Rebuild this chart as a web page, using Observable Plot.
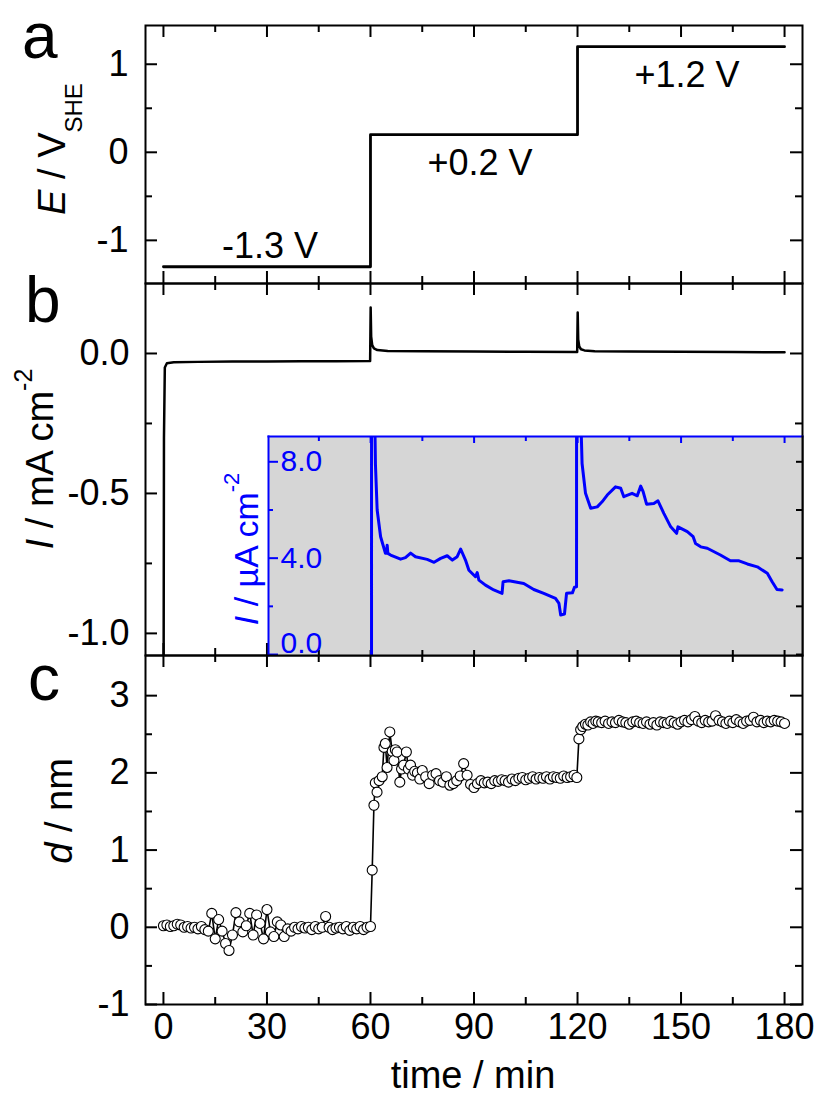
<!DOCTYPE html>
<html><head><meta charset="utf-8">
<script src="https://cdn.jsdelivr.net/npm/d3@7"></script>
<script src="https://cdn.jsdelivr.net/npm/@observablehq/plot@0.6"></script>
<style>
html,body{margin:0;padding:0;background:#fff;}
#fig{position:relative;width:822px;height:1097px;overflow:hidden;}
#fig svg{position:absolute;overflow:visible;}
</style></head><body><div id="fig"></div>
<script>
// ---------- data ----------
// panel a: applied potential steps [time min, E V_SHE]
const potentialSteps = [[0, -1.3], [60, 0.2], [120, 1.2], [180, 1.2]];
const potentialLabels = ["-1.3 V", "+0.2 V", "+1.2 V"];

// panel b: current density [time min, I mA cm^-2]
const currentMain = [
  [0, -1.6], [0.15, -0.3], [0.4, -0.05], [1, -0.035], [3, -0.031], [10, -0.030], [20, -0.029],
  [30, -0.029], [40, -0.028], [50, -0.028], [59.9, -0.027], [60.05, 0.164], [60.2, 0.06],
  [60.5, 0.03], [61, 0.018], [62, 0.012], [65, 0.009], [75, 0.008], [90, 0.007], [105, 0.006],
  [119.9, 0.005], [120.05, 0.146], [120.2, 0.05], [120.5, 0.025], [121, 0.015], [122, 0.011],
  [125, 0.008], [135, 0.007], [150, 0.006], [165, 0.005], [180, 0.004]
];

// inset: current density [time min, I µA cm^-2]
const currentInset = [
  [31, -28], [45, -28], [60.25, -27], [60.35, 160], [60.6, 30], [61.0, 12], [61.4, 7.9],
  [61.9, 6.0], [62.9, 4.89], [64.3, 4.2], [64.6, 4.2], [64.8, 4.54], [65.0, 4.2], [65.8, 4.13],
  [68.7, 3.96], [70.1, 4.02], [71.6, 4.21], [73.0, 4.06], [76.4, 3.95], [78.4, 3.83],
  [80.3, 3.99], [82.2, 4.1], [83.7, 3.92], [85.1, 4.06], [86.1, 4.38], [87.5, 3.92],
  [88.5, 3.5], [90.4, 3.23], [90.9, 3.4], [91.4, 3.09], [93.3, 2.88], [95.7, 2.68],
  [98.1, 2.54], [98.4, 3.02], [100.1, 3.06], [104.4, 2.95], [107.3, 2.7], [110.2, 2.54],
  [113.6, 2.33], [114.6, 2.12], [115.1, 1.64], [116.2, 1.68], [116.8, 2.54], [118.5, 2.56],
  [119.1, 2.79], [119.7, 2.81], [119.8, 146], [120.5, 20], [121.0, 9.5], [121.3, 7.93],
  [122.3, 6.69], [123.8, 6.07], [125.7, 6.13], [127.1, 6.34], [128.6, 6.62], [131.0, 6.96],
  [132.5, 6.9], [133.4, 6.55], [135.8, 6.69], [137.3, 6.59], [138.3, 6.99], [139.0, 6.76],
  [140.0, 6.24], [142.1, 6.27], [143.3, 6.38], [145.0, 5.86], [147.0, 5.3], [148.7, 5.03],
  [149.1, 5.3], [151.8, 5.1], [153.5, 4.89], [154.2, 4.61], [155.7, 4.47], [157.6, 4.41],
  [161.4, 4.13], [164.3, 3.89], [166.8, 3.89], [169.2, 3.76], [172.1, 3.64], [175.0, 3.37],
  [176.4, 3.02], [177.8, 2.7], [179.3, 2.68]
];

// panel c: oxide thickness [time min, d nm]
const thickness = [
  [0,0.02],[1,0.03],[2,0.01],[3,0.02],[4,0.04],[5,0.03],[6,0.00],[7,0.01],[8,-0.01],[9,0.00],
  [10,-0.02],[11,0.01],[12,-0.03],[13,-0.05],[14,0.18],[15,-0.15],[16,0.10],[17,-0.05],[18,-0.21],[19,-0.30],
  [20,-0.10],[21,0.19],[22,0.07],[23,-0.06],[24,0.02],[25,0.18],[26,-0.10],[27,0.16],[28,0.05],[29,-0.15],
  [30,0.23],[31,-0.06],[32,-0.12],[33,0.07],[34,0.03],[35,-0.12],[36,-0.02],[37,-0.05],[38,0.00],[39,-0.02],
  [40,0.01],[41,-0.01],[42,0.00],[43,-0.03],[44,0.01],[45,-0.02],[46,0.00],[47,0.14],[48,0.00],[49,-0.03],
  [50,-0.01],[51,0.00],[52,-0.02],[53,0.01],[54,-0.04],[55,0.00],[56,-0.02],[57,0.01],[58,-0.03],[59,0.00],
  [60,0.01],[60.5,0.74],[61,1.58],[61.4,1.87],[61.9,1.75],[62.5,1.90],[63.4,1.95],[63.9,2.33],[64.3,2.38],[64.8,2.07],
  [65.6,2.53],[66.3,2.28],[66.8,2.16],[67.2,2.30],[67.7,2.27],[68.5,1.88],[69.0,2.05],[69.6,2.10],[70.4,2.27],[71.0,2.05],
  [71.6,2.10],[72.2,1.97],[72.8,2.02],[73.6,2.00],[74.3,1.92],[75,2.03],[76,1.95],[77,1.86],[78,1.97],[79,1.99],
  [80,1.90],[81,1.88],[82,1.95],[83,1.84],[84,1.86],[85,1.90],[86,1.96],[87,2.12],[88,1.97],[89,1.85],
  [90,1.81],[91,1.86],[92,1.90],[93,1.87],[94,1.88],[95,1.86],[96,1.90],[97,1.89],[98,1.91],[99,1.90],
  [100,1.88],[101,1.92],[102,1.90],[103,1.93],[104,1.94],[105,1.91],[106,1.93],[107,1.95],[108,1.92],[109,1.94],
  [110,1.93],[111,1.95],[112,1.92],[113,1.95],[114,1.94],[115,1.93],[116,1.96],[117,1.94],[118,1.95],[119,1.97],
  [119.8,1.94],[120.4,2.44],[120.9,2.56],[121.5,2.60],[122.3,2.63],[123,2.62],[123.8,2.66],[124.5,2.64],[125.3,2.67],[126,2.66],
  [127,2.65],[128,2.67],[129,2.64],[130,2.66],[131,2.65],[132,2.68],[133,2.66],[134,2.65],[135,2.63],[136,2.66],
  [137,2.67],[138,2.65],[139,2.64],[140,2.66],[141,2.63],[142,2.65],[143,2.62],[144,2.66],[145,2.65],[146,2.64],
  [147,2.67],[148,2.65],[149,2.63],[150,2.66],[151,2.68],[152,2.66],[153,2.69],[154,2.73],[155,2.67],[156,2.65],
  [157,2.68],[158,2.66],[159,2.67],[160,2.74],[161,2.68],[162,2.66],[163,2.64],[164,2.67],[165,2.65],[166,2.69],
  [167,2.66],[168,2.64],[169,2.67],[170,2.68],[171,2.72],[172,2.66],[173,2.68],[174,2.65],[175,2.67],[176,2.66],
  [177,2.68],[178,2.67],[179,2.66],[180,2.64]
];

// ticks
const timeMajor = [0, 30, 60, 90, 120, 150, 180];
const timeMinor = [15, 45, 75, 105, 135, 165];
const eMajor = [-1, 0, 1], eMinor = [-0.5, 0.5];
const iMajor = [-1, -0.5, 0], iMinor = [-0.75, -0.25];
const dMajor = [-1, 0, 1, 2, 3], dMinor = [-0.5, 0.5, 1.5, 2.5];
const insetMajor = [0, 4, 8], insetMinor = [2, 6];

// ---------- layout ----------
const FONT = '"Liberation Sans", Arial, Helvetica, sans-serif';
const W = 822, ML = 145, MR = 20, IW = W - ML - MR;
const xDomain = [-5.2, 185.2];
const fig = document.getElementById("fig");
const baseStyle = {fontFamily: FONT, fontSize: "36px", background: "transparent", overflow: "visible", color: "black"};

function sideTicks(side, values, len, w, h, color = "black", sw = 2) {
  const o = {stroke: color, strokeWidth: sw};
  if (side === "top") return Plot.tickX(values, {x: d => d, insetBottom: h - len, ...o});
  if (side === "bottom") return Plot.tickX(values, {x: d => d, insetTop: h - len, ...o});
  if (side === "left") return Plot.tickY(values, {y: d => d, insetRight: w - len, ...o});
  return Plot.tickY(values, {y: d => d, insetLeft: w - len, ...o});
}
function boxTicks(w, h, yMaj, yMin) {
  return [
    sideTicks("top", timeMajor, 12, w, h), sideTicks("top", timeMinor, 7, w, h),
    sideTicks("bottom", timeMajor, 12, w, h), sideTicks("bottom", timeMinor, 7, w, h),
    sideTicks("left", yMaj, 12, w, h), sideTicks("left", yMin, 7, w, h),
    sideTicks("right", yMaj, 12, w, h), sideTicks("right", yMin, 7, w, h)
  ];
}
function place(svg, left, top) {
  svg.style.left = left + "px";
  svg.style.top = top + "px";
  fig.appendChild(svg);
}

// ---------- panel a ----------
const stepData = potentialSteps.map(([t, E]) => ({t, E}));
const labelData = potentialLabels.map((s, i) => ({
  s, t: (potentialSteps[i][0] + potentialSteps[i + 1][0]) / 2, E: potentialSteps[i][1], above: i === 0
}));
const hA = 283, mtA = 25;
const plotA = Plot.plot({
  width: W, height: hA, marginTop: mtA, marginBottom: 0, marginLeft: ML, marginRight: MR,
  x: {domain: xDomain, axis: null},
  y: {domain: [-1.49, 1.44]},
  style: baseStyle,
  marks: [
    ...boxTicks(IW, hA - mtA, eMajor, eMinor),
    Plot.axisY(eMajor, {tickSize: 0, tickPadding: 17, tickFormat: d => String(d), fontSize: 36, label: null}),
    Plot.line(stepData, {x: "t", y: "E", curve: "step-after", stroke: "black", strokeWidth: 2.8}),
    Plot.text(labelData.filter(d => d.above), {x: "t", y: "E", text: "s", dx: 3, dy: -20, fontSize: 36}),
    Plot.text(labelData.filter(d => !d.above), {x: "t", y: "E", text: "s", dx: 6, dy: 29, fontSize: 36}),
    Plot.frame({stroke: "black", strokeWidth: 2})
  ]
});
place(plotA, 0, 0);

// ---------- panel b ----------
const hB = 372;
const plotB = Plot.plot({
  width: W, height: hB, marginTop: 0, marginBottom: 0, marginLeft: ML, marginRight: MR,
  x: {domain: xDomain, axis: null},
  y: {domain: [-1.079, 0.25]},
  style: baseStyle,
  marks: [
    ...boxTicks(IW, hB, iMajor, iMinor),
    Plot.axisY(iMajor, {tickSize: 0, tickPadding: 16, tickFormat: d => d.toFixed(1), fontSize: 36, label: null}),
    Plot.line(currentMain.map(([t, I]) => ({t, I})), {x: "t", y: "I", stroke: "black", strokeWidth: 2.5, clip: true}),
    Plot.frame({stroke: "black", strokeWidth: 2})
  ]
});
place(plotB, 0, 283);

// ---------- inset ----------
const insetLeft = 268, insetTop = 436, insetW = W - MR - insetLeft, insetH = 655 - insetTop;
const plotInset = Plot.plot({
  width: insetW, height: insetH, margin: 0,
  x: {domain: [30.4, xDomain[1]], axis: null},
  y: {domain: [-0.04, 9.05], axis: null},
  style: {...baseStyle, fontSize: "30px"},
  marks: [
    Plot.frame({fill: "#d6d6d6"}),
    sideTicks("left", insetMajor, 10, insetW, insetH, "blue"),
    sideTicks("left", insetMinor, 5, insetW, insetH, "blue"),
    sideTicks("right", insetMajor.concat(insetMinor), 6, insetW, insetH, "black"),
    sideTicks("top", timeMajor.filter(t => t > 30), 7, insetW, insetH, "blue"),
    sideTicks("top", timeMinor.filter(t => t > 30), 5, insetW, insetH, "blue"),
    sideTicks("bottom", timeMajor.filter(t => t > 30), 5, insetW, insetH, "black"),
    sideTicks("bottom", timeMinor.filter(t => t > 30), 5, insetW, insetH, "black"),
    Plot.text(insetMajor.filter(v => v > 0), {y: d => d, text: d => d.toFixed(1), frameAnchor: "left", textAnchor: "start", dx: 12, fill: "blue", fontSize: 30}),
    Plot.text(insetMajor.filter(v => v === 0), {y: d => d, text: d => d.toFixed(1), frameAnchor: "left", textAnchor: "start", dx: 12, dy: -11, fill: "blue", fontSize: 30}),
    Plot.line(currentInset.map(([t, I]) => ({t, I})), {x: "t", y: "I", stroke: "blue", strokeWidth: 3, clip: true}),
    Plot.frame({anchor: "top", stroke: "blue", strokeWidth: 2}),
    Plot.frame({anchor: "left", stroke: "blue", strokeWidth: 2}),
    Plot.frame({anchor: "right", stroke: "black", strokeWidth: 2})
  ]
});
place(plotInset, insetLeft, insetTop);

// ---------- panel c ----------
const hC = 442, mbC = 93;
const plotC = Plot.plot({
  width: W, height: hC, marginTop: 0, marginBottom: mbC, marginLeft: ML, marginRight: MR,
  x: {domain: xDomain},
  y: {domain: [-1, 3.52]},
  style: baseStyle,
  marks: [
    ...boxTicks(IW, hC - mbC, dMajor, dMinor),
    Plot.axisY(dMajor, {tickSize: 0, tickPadding: 16, tickFormat: d => String(d), fontSize: 36, label: null}),
    Plot.axisX(timeMajor, {anchor: "bottom", tickSize: 0, tickPadding: 9, tickFormat: d => String(d), fontSize: 36, label: null}),
    Plot.line(thickness.map(([t, d]) => ({t, d})), {x: "t", y: "d", stroke: "black", strokeWidth: 1.6}),
    Plot.dot(thickness.map(([t, d]) => ({t, d})), {x: "t", y: "d", r: 5, fill: "white", stroke: "black", strokeWidth: 1.1}),
    Plot.frame({stroke: "black", strokeWidth: 2})
  ]
});
place(plotC, 0, 655);

// ---------- titles & panel letters (text overlay) ----------
const ov = d3.select(fig).append("svg").attr("width", W).attr("height", 1097)
  .style("left", "0px").style("top", "0px").style("pointer-events", "none")
  .attr("font-family", FONT);

function richText(g, parts) {
  parts.forEach(p => {
    const ts = g.append("tspan").text(p.text);
    if (p.italic) ts.attr("font-style", "italic");
    if (p.size) ts.attr("font-size", p.size);
    if (p.dy) ts.attr("dy", p.dy);
  });
}
function rotTitle(x, y, size, color, parts) {
  const t = ov.append("text").attr("transform", `translate(${x},${y}) rotate(-90)`)
    .attr("text-anchor", "middle").attr("font-size", size).attr("fill", color);
  richText(t, parts);
}
rotTitle(65, 149, 38, "black", [{text: "E", italic: true}, {text: " / V"}, {text: "SHE", size: 24, dy: 17}]);
rotTitle(53, 459, 38, "black", [{text: "I", italic: true}, {text: " / mA cm"}, {text: "-2", size: 25, dy: -21}]);
rotTitle(72, 811, 38, "black", [{text: "d", italic: true}, {text: " / nm"}]);
rotTitle(258, 549, 34, "blue", [{text: "I", italic: true}, {text: " / µA cm"}, {text: "-2", size: 22, dy: -19}]);
ov.append("text").attr("x", 473).attr("y", 1088).attr("text-anchor", "middle").attr("font-size", 38).text("time / min");

[["a", 22, 58], ["b", 25, 322], ["c", 28, 700]].forEach(([s, x, y]) =>
  ov.append("text").attr("x", x).attr("y", y).attr("font-size", 64).text(s));
</script></body></html>
